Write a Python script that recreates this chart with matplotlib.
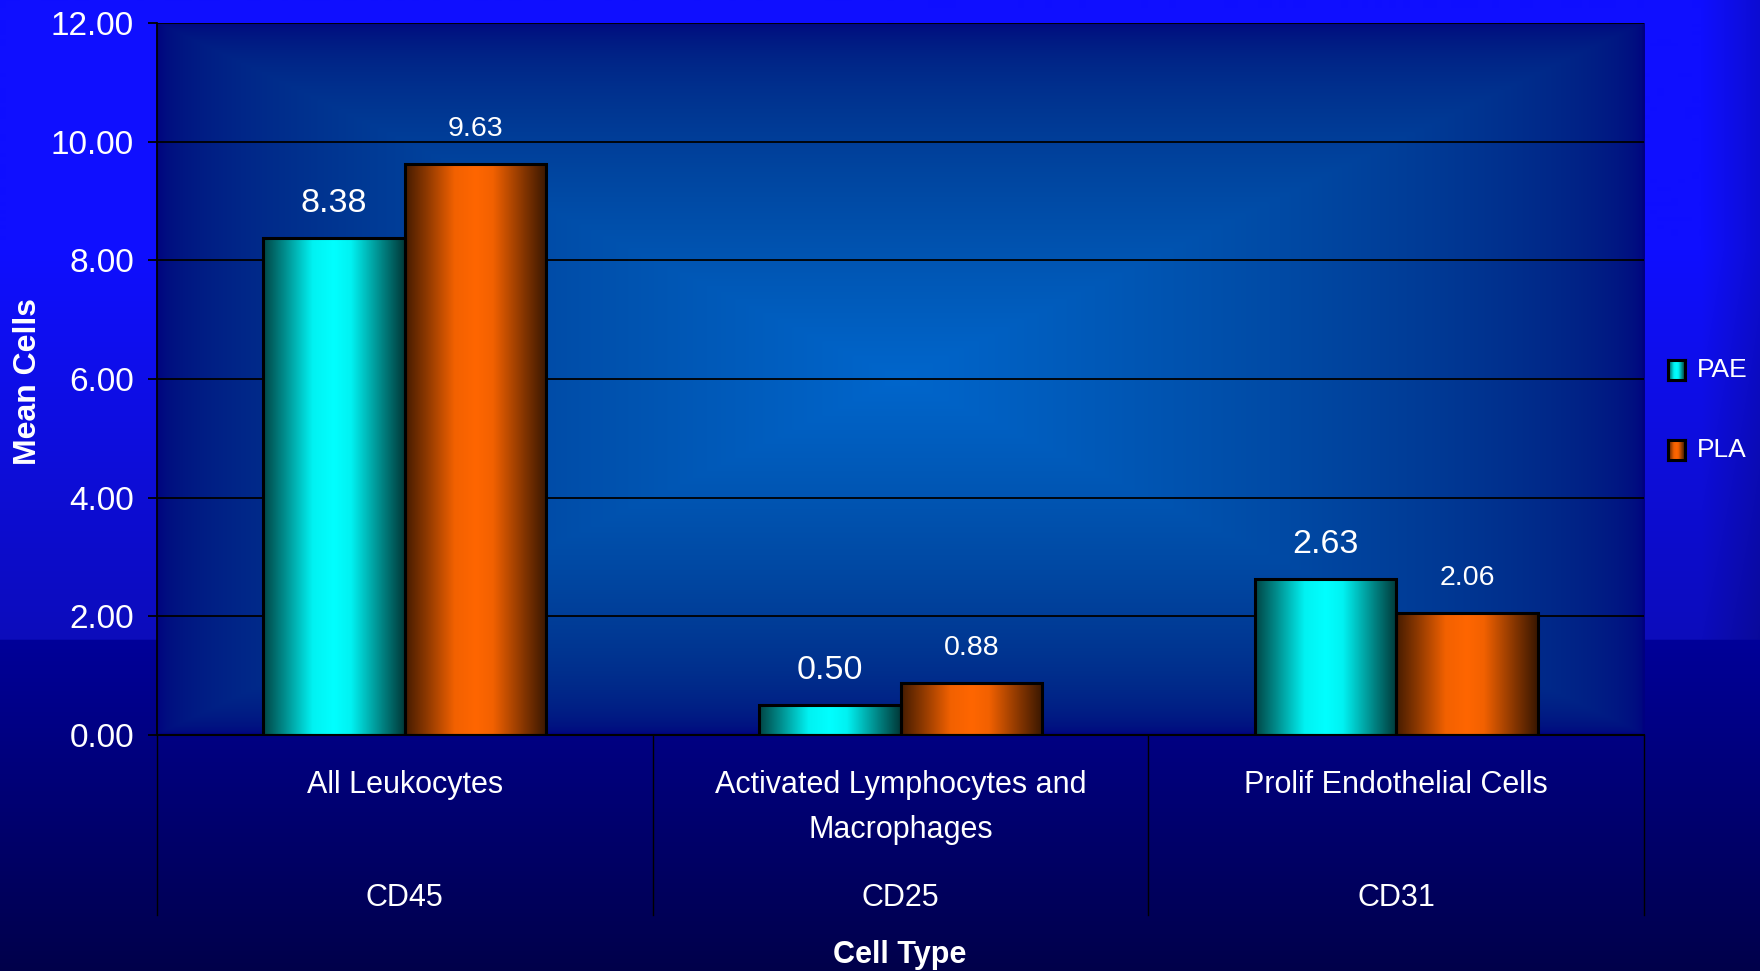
import numpy as np
import matplotlib
matplotlib.use("Agg")
import matplotlib.pyplot as plt
from matplotlib.transforms import blended_transform_factory

plt.rcParams['font.family'] = ['Liberation Sans', 'DejaVu Sans']

categories = ["All Leukocytes", "Activated Lymphocytes and\nMacrophages", "Prolif Endothelial Cells"]
markers = ["CD45", "CD25", "CD31"]
series_names = ["PAE", "PLA"]
pae = [8.38, 0.50, 2.63]
pla = [9.63, 0.88, 2.06]
y_ticks = [0, 2, 4, 6, 8, 10, 12]

W, H = 1760, 971
fig = plt.figure(figsize=(W / 100, H / 100), dpi=100)

# slide background: bright blue upper band, dark navy lower band
yy = np.arange(H)[:, None].astype(float)
xx = np.arange(W)[None, :].astype(float)
t_top = np.clip((yy - 250) / 390, 0, 1)
top = (1 - t_top)[..., None] * np.array([15, 15, 255]) + t_top[..., None] * np.array([12, 12, 187])
fade = 1 - 0.18 * np.clip((xx - 1700) / 60, 0, 1)
top = top * fade[..., None]
t_bot = np.clip((yy - 640) / (H - 640), 0, 1)
bot = (1 - t_bot)[..., None] * np.array([0, 0, 153]) + t_bot[..., None] * np.array([0, 0, 74])
bot = np.broadcast_to(bot, (H, W, 3))
bg = np.where((yy < 640)[..., None], top, bot) / 255.0
bg_ax = fig.add_axes([0, 0, 1, 1], zorder=-10)
bg_ax.imshow(bg, aspect='auto', extent=[0, 1, 0, 1])
bg_ax.axis('off')

ax = fig.add_axes([157 / W, 1 - 735 / H, (1644 - 157) / W, (735 - 23) / H])
ax.patch.set_visible(False)

# plot area fill, light in the middle and dark towards the edges
u = np.linspace(-1, 1, 600)
v = np.linspace(-1, 1, 400)
d = np.maximum(np.abs(u)[None, :], np.abs(v)[:, None])
t = 1 - d
area = np.zeros((400, 600, 3))
area[..., 1] = 0.40 * t ** 0.45
area[..., 2] = 0.50 + 0.30 * t
ax.imshow(area, aspect='auto', extent=[-0.5, 2.5, 0, 12], zorder=0, interpolation='bilinear')


def bar_gradient(base):
    s = np.linspace(0, 1, 256)
    k = np.interp(s, [0, 0.15, 0.35, 0.5, 0.62, 0.85, 1],
                  [0.27, 0.55, 0.95, 1.0, 0.95, 0.5, 0.22])
    return (k[:, None] * np.array(base))[None, :, :]


grad_pae = bar_gradient([0, 1, 1])
grad_pla = bar_gradient([1, 0.4, 0])

x = np.arange(len(categories))
w = 1 / 3.5
bars_pae = ax.bar(x - w / 2, pae, w, facecolor='none', edgecolor='black', linewidth=2.2, zorder=3)
bars_pla = ax.bar(x + w / 2, pla, w, facecolor='none', edgecolor='black', linewidth=2.2, zorder=3)

for bars, grad, vals, fs in [(bars_pae, grad_pae, pae, 24.5), (bars_pla, grad_pla, pla, 20.5)]:
    for rect, val in zip(bars, vals):
        x0 = rect.get_x()
        ax.imshow(grad, aspect='auto', extent=[x0, x0 + rect.get_width(), 0, rect.get_height()],
                  zorder=2, interpolation='bilinear')
        ax.annotate(f"{val:.2f}", (x0 + rect.get_width() / 2, val), xytext=(0, 25),
                    textcoords='offset points', ha='center', va='center',
                    color='white', fontsize=fs)

ax.set_xlim(-0.5, 2.5)
ax.set_ylim(0, 12)
ax.set_yticks(y_ticks)
ax.set_yticklabels([f"{v:.2f}" for v in y_ticks])
ax.tick_params(axis='y', length=6.5, width=1.3, color='black', pad=10,
               labelcolor='white', labelsize=24)
ax.set_xticks([])
ax.set_axisbelow(True)
ax.yaxis.grid(True, color='black', linewidth=1.3)
for side in ['top', 'right']:
    ax.spines[side].set_visible(False)
ax.spines['left'].set_color('black')
ax.spines['left'].set_linewidth(1.3)
ax.spines['bottom'].set_color('black')
ax.spines['bottom'].set_linewidth(1.5)

# category labels and dividers under the axis
trans = blended_transform_factory(ax.transData, fig.transFigure)
for xb in np.arange(len(categories) + 1) - 0.5:
    ax.plot([xb, xb], [1 - 735 / H, 1 - 915 / H], transform=trans, color='black',
            linewidth=1, clip_on=False)
for i, (lab, mk) in enumerate(zip(categories, markers)):
    for j, line in enumerate(lab.split("\n")):
        ax.text(i, 1 - (793 + 45 * j) / H, line, transform=trans, ha='center',
                va='baseline', color='white', fontsize=22)
    ax.text(i, 1 - 906 / H, mk, transform=trans, ha='center', va='baseline',
            color='white', fontsize=22)

fig.text(900 / W, 1 - 963 / H, "Cell Type", ha='center', va='baseline',
         color='white', fontsize=22, fontweight='bold')
fig.text(28 / W, 1 - 381 / H, "Mean Cells", ha='center', va='center', rotation=90,
         color='white', fontsize=23, fontweight='bold')

# legend
for i, (name, grad) in enumerate(zip(series_names, [grad_pae, grad_pla])):
    cy = 370 + 80 * i
    lax = fig.add_axes([1668 / W, 1 - (cy + 10) / H, 17 / W, 20 / H])
    lax.imshow(grad, aspect='auto', extent=[0, 1, 0, 1], interpolation='bilinear')
    lax.set_xticks([])
    lax.set_yticks([])
    for sp in lax.spines.values():
        sp.set_color('black')
        sp.set_linewidth(2.2)
    fig.text(1697 / W, 1 - cy / H, name, ha='left', va='center', color='white', fontsize=19)

fig.savefig("out.png", dpi=100)
